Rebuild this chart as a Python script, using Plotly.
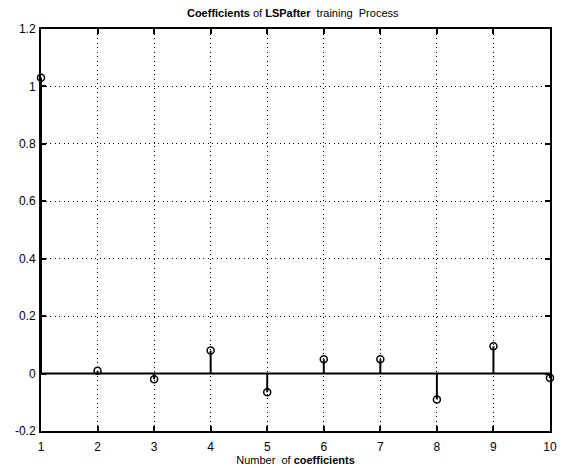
import plotly.graph_objects as go

coef_index = [1, 2, 3, 4, 5, 6, 7, 8, 9, 10]
coef_values = [1.03, 0.01, -0.02, 0.08, -0.065, 0.05, 0.05, -0.09, 0.095, -0.015]
y_ticks = [-0.2, 0, 0.2, 0.4, 0.6, 0.8, 1.0, 1.2]
y_tick_labels = ["-0.2", "0", "0.2", "0.4", "0.6", "0.8", "1", "1.2"]
x_ticks = [1, 2, 3, 4, 5, 6, 7, 8, 9, 10]

stem_x, stem_y = [], []
for xi, yi in zip(coef_index, coef_values):
    stem_x += [xi, xi, None]
    stem_y += [0, yi, None]

fig = go.Figure()
fig.add_trace(go.Scatter(x=[coef_index[0], coef_index[-1]], y=[0, 0], mode="lines",
                         line=dict(color="black", width=2), hoverinfo="skip", showlegend=False))
fig.add_trace(go.Scatter(x=stem_x, y=stem_y, mode="lines",
                         line=dict(color="black", width=2), hoverinfo="skip", showlegend=False))
fig.add_trace(go.Scatter(x=coef_index, y=coef_values, mode="markers",
                         marker=dict(symbol="circle-open", size=7, color="black", line=dict(width=1.5)),
                         showlegend=False, cliponaxis=False))

font = "Liberation Sans, Arial, sans-serif"
fig.update_layout(
    width=574, height=468,
    margin=dict(l=41, r=24, t=29, b=37, autoexpand=False),
    paper_bgcolor="white", plot_bgcolor="white",
    font=dict(family=font, size=11, color="black"),
    title=dict(text="<b>Coefficients</b> of <b>LSPafter</b>  training  Process",
               x=0.51, xanchor="center", y=0.981, yanchor="top",
               font=dict(family=font, size=11, color="black")),
    xaxis=dict(range=[1, 10], tickvals=x_ticks, ticks="inside", ticklen=5, tickwidth=1.5,
               tickcolor="black", showline=True, linecolor="black", linewidth=2, mirror="ticks",
               showgrid=True, gridcolor="black", griddash="1px,3.5px", gridwidth=1.3, zeroline=False,
               ticklabelstandoff=4, automargin=False,
               title=dict(text="Number  of <b>coefficients</b>", standoff=0,
                          font=dict(family=font, size=11, color="black")),
               tickfont=dict(family=font, size=12, color="black")),
    yaxis=dict(range=[-0.2, 1.2], tickvals=y_ticks, ticktext=y_tick_labels, ticks="inside",
               ticklen=5, tickwidth=1.5, tickcolor="black", showline=True, linecolor="black",
               linewidth=2, mirror="ticks", showgrid=True, gridcolor="black", griddash="1px,3.5px",
               gridwidth=1.3, zeroline=False, ticklabelstandoff=1, automargin=False,
               tickfont=dict(family=font, size=12, color="black")),
)
fig.write_html("out.html", config={"displayModeBar": False},
               post_script="document.body.style.margin='0';")
